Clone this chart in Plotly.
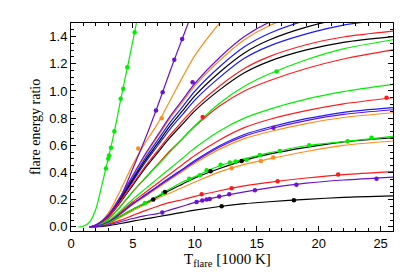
import plotly.graph_objects as go

# common temperature grid (1000 K) for the model curves
T_GRID = [1.5, 2, 3, 4, 5, 6, 7, 8, 9, 10, 12, 14, 16, 19, 22, 26]

# steep green curve has its own grid
T_GREEN_STEEP = [0.6, 1.0, 1.5, 2.0, 2.5, 3.0, 3.5, 4.0, 4.5, 5.0, 5.5]
green_steep = [0, 0.005, 0.035, 0.13, 0.31, 0.5, 0.7, 0.93, 1.15, 1.37, 1.6]

purple_curves = [
    [0, 0.015, 0.08, 0.22, 0.43, 0.65, 0.89, 1.145, 1.388, 1.62, 2.0, 2.3, 2.5, 2.7, 2.85, 2.95],
    [0, 0.01, 0.087, 0.225, 0.38, 0.536, 0.675, 0.813, 0.934, 1.055, 1.246, 1.40, 1.505, 1.6, 1.67, 1.73],
    [0, 0.004, 0.036, 0.098, 0.17, 0.232, 0.295, 0.357, 0.418, 0.48, 0.588, 0.668, 0.72, 0.782, 0.828, 0.862],
    [0, 0.002, 0.014, 0.038, 0.062, 0.083, 0.098, 0.125, 0.152, 0.180, 0.223, 0.258, 0.287, 0.322, 0.345, 0.367],
]
orange_curves = [
    [0, 0.012, 0.1, 0.27, 0.46, 0.62, 0.76, 0.93, 1.10, 1.26, 1.5, 1.7, 1.85, 2.0, 2.1, 2.2],
    [0, 0.01, 0.085, 0.221, 0.374, 0.527, 0.663, 0.8, 0.918, 1.037, 1.224, 1.377, 1.48, 1.58, 1.65, 1.70],
    [0, 0.004, 0.035, 0.095, 0.165, 0.225, 0.287, 0.348, 0.408, 0.468, 0.572, 0.65, 0.70, 0.76, 0.805, 0.84],
    [0, 0.003, 0.025, 0.07, 0.12, 0.165, 0.21, 0.25, 0.29, 0.33, 0.405, 0.46, 0.50, 0.555, 0.60, 0.632],
]
blue_curves = [
    [0, 0.01, 0.082, 0.213, 0.36, 0.507, 0.638, 0.769, 0.883, 0.998, 1.178, 1.325, 1.423, 1.52, 1.587, 1.636],
    [0, 0.009, 0.077, 0.2, 0.337, 0.474, 0.597, 0.72, 0.826, 0.933, 1.1, 1.24, 1.33, 1.42, 1.485, 1.53],
    [0, 0.004, 0.037, 0.1, 0.173, 0.236, 0.3, 0.363, 0.425, 0.488, 0.597, 0.68, 0.733, 0.796, 0.843, 0.877],
]
black_curves = [
    [0, 0.009, 0.079, 0.205, 0.348, 0.49, 0.616, 0.743, 0.853, 0.964, 1.138, 1.28, 1.375, 1.47, 1.533, 1.58],
    [0, 0.008, 0.07, 0.182, 0.308, 0.434, 0.546, 0.658, 0.756, 0.854, 1.008, 1.134, 1.218, 1.302, 1.358, 1.40],
    [0, 0.004, 0.03, 0.08, 0.13, 0.175, 0.222, 0.27, 0.315, 0.36, 0.43, 0.49, 0.535, 0.585, 0.625, 0.656],
    [0, 0.001, 0.009, 0.025, 0.043, 0.059, 0.075, 0.091, 0.107, 0.123, 0.150, 0.171, 0.185, 0.203, 0.217, 0.228],
]
red_curves = [
    [0, 0.009, 0.072, 0.187, 0.317, 0.446, 0.562, 0.677, 0.778, 0.878, 1.037, 1.166, 1.253, 1.34, 1.397, 1.44],
    [0, 0.007, 0.055, 0.15, 0.26, 0.36, 0.46, 0.56, 0.65, 0.74, 0.89, 1.0, 1.075, 1.165, 1.235, 1.302],
    [0, 0.005, 0.04, 0.108, 0.185, 0.253, 0.322, 0.39, 0.458, 0.526, 0.64, 0.73, 0.79, 0.855, 0.905, 0.95],
    [0, 0.003, 0.02, 0.05, 0.085, 0.12, 0.152, 0.18, 0.2, 0.225, 0.266, 0.302, 0.328, 0.36, 0.385, 0.407],
]
green_curves = [
    [0, 0.007, 0.055, 0.152, 0.262, 0.358, 0.455, 0.552, 0.648, 0.744, 0.91, 1.035, 1.125, 1.23, 1.31, 1.377],
    [0, 0.005, 0.043, 0.118, 0.204, 0.28, 0.355, 0.43, 0.505, 0.58, 0.706, 0.80, 0.865, 0.94, 0.995, 1.048],
    [0, 0.004, 0.03, 0.08, 0.13, 0.178, 0.228, 0.28, 0.33, 0.37, 0.45, 0.5, 0.545, 0.597, 0.628, 0.666],
]

# observed points (markers)
green_mx = [2.82, 3.01, 3.07, 3.23, 3.5, 4.01, 4.22, 4.55, 5.14, 5.97, 7.45, 9.55, 10.41, 10.95, 12.08, 12.83, 13.29, 14.18, 15.25, 16.87, 19.23, 22.33, 24.27, 16.6]
green_my = [0.429, 0.502, 0.526, 0.583, 0.703, 0.943, 1.016, 1.175, 1.432, 0.176, 0.25, 0.355, 0.38, 0.416, 0.458, 0.473, 0.482, 0.495, 0.529, 0.558, 0.6, 0.631, 0.656, 1.143]
purple_mx = [6.86, 7.4, 8.34, 8.98, 9.82, 16.35, 7.37, 10.14, 10.6, 10.95, 11.2, 11.97, 12.78, 14.85, 18.2, 24.67]
purple_my = [0.857, 0.991, 1.229, 1.383, 1.065, 0.73, 0.106, 0.184, 0.194, 0.201, 0.206, 0.223, 0.24, 0.27, 0.311, 0.355]
orange_mx = [5.43, 7.32, 12.97, 15.33, 16.33]
orange_my = [0.576, 0.80, 0.431, 0.485, 0.51]
black_mx = [6.64, 7.59, 11.27, 13.78, 12.16, 18.0]
black_my = [0.201, 0.257, 0.409, 0.485, 0.152, 0.196]
red_mx = [10.63, 25.48, 10.55, 12.97, 16.68, 21.57]
red_my = [0.808, 0.95, 0.24, 0.284, 0.336, 0.385]

X_TICKS = [0, 5, 10, 15, 20, 25]
Y_TICKS = [0.0, 0.2, 0.4, 0.6, 0.8, 1.0, 1.2, 1.4]

COLORS = {
    "green": "#00ee00",
    "purple": "#6a12d0",
    "orange": "#ff8c1a",
    "blue": "#1a1aff",
    "black": "#000000",
    "red": "#ff1a1a",
}

fig = go.Figure()

def add_line(x, y, color):
    fig.add_trace(go.Scatter(x=x, y=y, mode="lines",
                             line=dict(color=color, width=1.2, shape="spline", smoothing=0.8),
                             hoverinfo="skip", showlegend=False))

add_line(T_GREEN_STEEP, green_steep, COLORS["green"])
for name, group in [("orange", orange_curves), ("blue", blue_curves), ("black", black_curves),
                    ("red", red_curves), ("green", green_curves), ("purple", purple_curves)]:
    for ys in group:
        add_line(T_GRID, ys, COLORS[name])

for name, mx, my in [("green", green_mx, green_my), ("purple", purple_mx, purple_my),
                     ("orange", orange_mx, orange_my), ("black", black_mx, black_my),
                     ("red", red_mx, red_my)]:
    fig.add_trace(go.Scatter(x=mx, y=my, mode="markers",
                             marker=dict(color=COLORS[name], size=4.5, line=dict(width=0)),
                             hoverinfo="skip", showlegend=False))

axis_common = dict(showline=True, linecolor="black", linewidth=1, mirror="ticks",
                   ticks="inside", ticklen=5, tickcolor="black", tickwidth=1,
                   showgrid=False, zeroline=False, automargin=False,
                   tickfont=dict(family="Liberation Sans", size=13, color="black"))

fig.update_xaxes(range=[0, 26], tickvals=X_TICKS, ticktext=[str(v) for v in X_TICKS],
                 minor=dict(ticks="inside", ticklen=3, dtick=1, tickcolor="black", showgrid=False),
                 **axis_common)
fig.update_yaxes(range=[-0.03, 1.5], tickvals=Y_TICKS, ticktext=[f"{v:.1f}" for v in Y_TICKS],
                 minor=dict(ticks="inside", ticklen=3, dtick=0.05, tickcolor="black", showgrid=False),
                 **axis_common)

fig.add_annotation(text="flare energy ratio", xref="paper", yref="paper", x=-0.112, y=0.5,
                   textangle=-90, showarrow=False, xanchor="center", yanchor="middle",
                   font=dict(family="Liberation Serif", size=14, color="black"))
fig.add_annotation(text="T<sub>flare</sub> [1000 K]", xref="paper", yref="paper", x=0.485, y=-0.14,
                   showarrow=False, xanchor="center", yanchor="middle",
                   font=dict(family="Liberation Serif", size=15, color="black"))

# the page body adds an 8 px offset, so the figure is 8 px smaller than the window
fig.update_layout(width=407, height=269, margin=dict(l=63, r=22, t=15, b=46),
                  paper_bgcolor="white", plot_bgcolor="white")

fig.write_html("out.html")
